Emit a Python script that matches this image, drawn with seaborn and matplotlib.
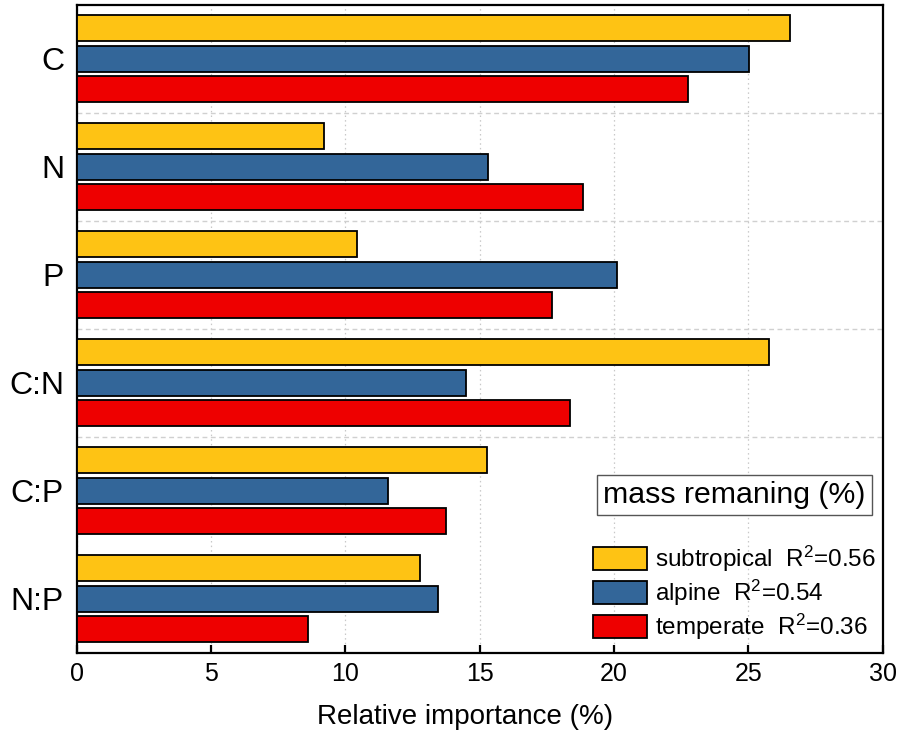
import matplotlib
matplotlib.use("Agg")
import matplotlib.pyplot as plt
import seaborn as sns
import pandas as pd
from matplotlib.patches import Patch

# Relative importance (%) of litter stoichiometry for mass remaining, by climate zone
factors = ["C", "N", "P", "C:N", "C:P", "N:P"]
subtropical = [26.55, 9.21, 10.42, 25.77, 15.29, 12.79]
alpine = [25.04, 15.32, 20.10, 14.49, 11.60, 13.46]
temperate = [22.74, 18.83, 17.70, 18.36, 13.76, 8.62]
zone_labels = ["subtropical  R$^2$=0.56", "alpine  R$^2$=0.54", "temperate  R$^2$=0.36"]
zone_colors = ["#FEC314", "#336699", "#EE0000"]
x_ticks = [0, 5, 10, 15, 20, 25, 30]
legend_title = "mass remaning (%)"

rows = []
for label, values in zip(zone_labels, [subtropical, alpine, temperate]):
    for f, v in zip(factors, values):
        rows.append({"factor": f, "importance": v, "zone": label})
df = pd.DataFrame(rows)

sns.set_theme(style="white")
plt.rcParams["font.family"] = ["Liberation Sans", "DejaVu Sans"]
plt.rcParams["mathtext.fontset"] = "custom"
plt.rcParams["mathtext.rm"] = "Liberation Sans"
plt.rcParams["mathtext.it"] = "Liberation Sans"
plt.rcParams["mathtext.default"] = "regular"
plt.rcParams["text.color"] = "black"
plt.rcParams["axes.labelcolor"] = "black"

fig = plt.figure(figsize=(8.98, 7.40), dpi=100)
ax = fig.add_axes([0.0853, 0.118, 0.8976, 0.8757])

sns.barplot(
    data=df, y="factor", x="importance", hue="zone", orient="h",
    order=factors, hue_order=zone_labels, palette=zone_colors, saturation=1,
    width=0.852, gap=0.16, edgecolor="black", linewidth=1.3,
    legend=False, ax=ax, zorder=3,
)

ax.set_xlim(0, 30)
ax.set_ylim(5.5, -0.5)
ax.set_xticks(x_ticks)
ax.set_xticklabels([str(t) for t in x_ticks], fontsize=18)
ax.set_yticks(range(len(factors)))
ax.set_yticklabels(factors, fontsize=23)
ax.set_xlabel("Relative importance (%)", fontsize=20, color="black")
ax.xaxis.set_label_coords(0.482, -0.1, transform=ax.transAxes)
ax.xaxis.label.set_va("center")
ax.set_ylabel("")

# grid: dotted verticals at x ticks, dashed separators between the upper factor groups
ax.set_yticks([i + 0.5 for i in range(len(factors) - 2)], minor=True)
ax.grid(False)
ax.grid(axis="x", which="major", linestyle=(0, (1.2, 2.5)), color="#c8c8c8", linewidth=0.9, zorder=0)
ax.grid(axis="y", which="minor", linestyle=(0, (3.5, 2.5)), color="#d0d0d0", linewidth=1.0, zorder=0)
ax.set_axisbelow(True)

for s in ax.spines.values():
    s.set_visible(True)
    s.set_color("black")
    s.set_linewidth(1.6)

ax.tick_params(axis="x", which="major", direction="in", length=6, width=1.6,
               colors="black", pad=7, bottom=True)
ax.tick_params(axis="y", which="both", length=0, pad=9, colors="black")
ax.tick_params(axis="y", which="minor", length=0)

# legend title box
ax.text(0.816, 0.243, legend_title, transform=ax.transAxes, fontsize=21.8,
        ha="center", va="center", color="black",
        bbox=dict(boxstyle="square,pad=0.2", facecolor="white",
                  edgecolor="#555555", linewidth=1.0), zorder=5)

handles = [Patch(facecolor=c, edgecolor="black", linewidth=1.3) for c in zone_colors]
leg = ax.legend(handles, zone_labels, loc="upper left",
                bbox_to_anchor=(0.641, 0.168), frameon=False, fontsize=17.5,
                handlelength=2.22, handleheight=1.11, handletextpad=0.33,
                labelspacing=0.15, borderpad=0, borderaxespad=0)
for t in leg.get_texts():
    t.set_color("black")
leg.set_zorder(5)

fig.savefig("out.png", dpi=100)
